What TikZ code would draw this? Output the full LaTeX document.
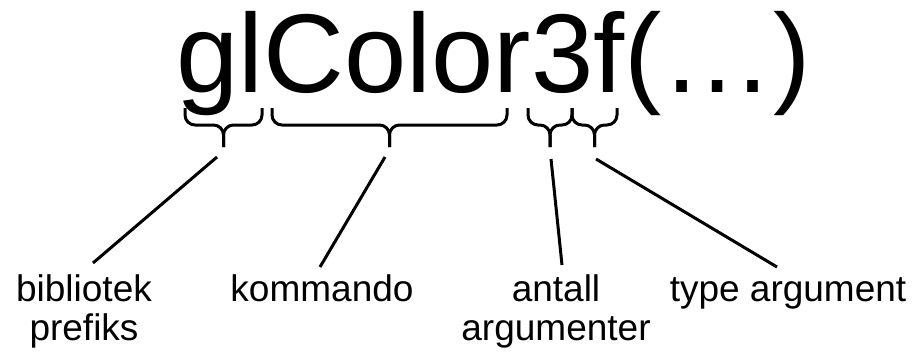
\documentclass[tikz,border=0pt]{standalone}
\usepackage{fontspec}
\setmainfont{Liberation Sans}
% one horizontal brace under a stretch of the call: left x, right x, name of its tip
\newcommand\drawbrace[3]{%
  \draw[brace] (#1,108) -- (#1,125) -- ({(#1+#2)/2},125) -- ({(#1+#2)/2},147);
  \draw[brace] (#2,108) -- (#2,125) -- ({(#1+#2)/2},125) -- ({(#1+#2)/2},147);
  \coordinate (#3) at ({(#1+#2)/2},147);
}
\begin{document}
\begin{tikzpicture}[x=0.5pt,y=-0.5pt,
  brace/.style={line width=1.5pt, rounded corners=5pt},
  pointer/.style={line width=1.5pt},
  part/.style={font=\fontsize{18.5}{19.5}\selectfont, align=center, inner sep=0pt}]
\useasboundingbox (0,0) rectangle (914,354);

% the function call
\node[anchor=base west, inner sep=0pt, font=\fontsize{56}{60}\selectfont] (call) at (176,92) {glColor3f(…)};

% braces under its parts
\drawbrace{185}{262}{tipgl}
\drawbrace{272}{507}{tipcmd}
\drawbrace{528}{572}{tipnum}
\drawbrace{572}{617}{tiptype}

% explanations (two-line ones are placed by the baseline of their last line)
\node[part, anchor=base] (lib)  at (84,340)  {bibliotek\\prefiks};
\node[part, anchor=base] (cmd)  at (322,301) {kommando};
\node[part, anchor=base] (num)  at (556,340) {antall\\argumenter};
\node[part, anchor=base] (type) at (788,301) {type argument};

% pointer lines from the braces to the explanations
\coordinate (s1) at (217,157); \coordinate (e1) at (93,263);
\coordinate (s2) at (385,157); \coordinate (e2) at (320,267);
\coordinate (s3) at (551,159); \coordinate (e3) at (562,265);
\coordinate (s4) at (596,159); \coordinate (e4) at (777,267);
\draw[pointer] (s1) -- (e1);
\draw[pointer] (s2) -- (e2);
\draw[pointer] (s3) -- (e3);
\draw[pointer] (s4) -- (e4);
\end{tikzpicture}
\end{document}
